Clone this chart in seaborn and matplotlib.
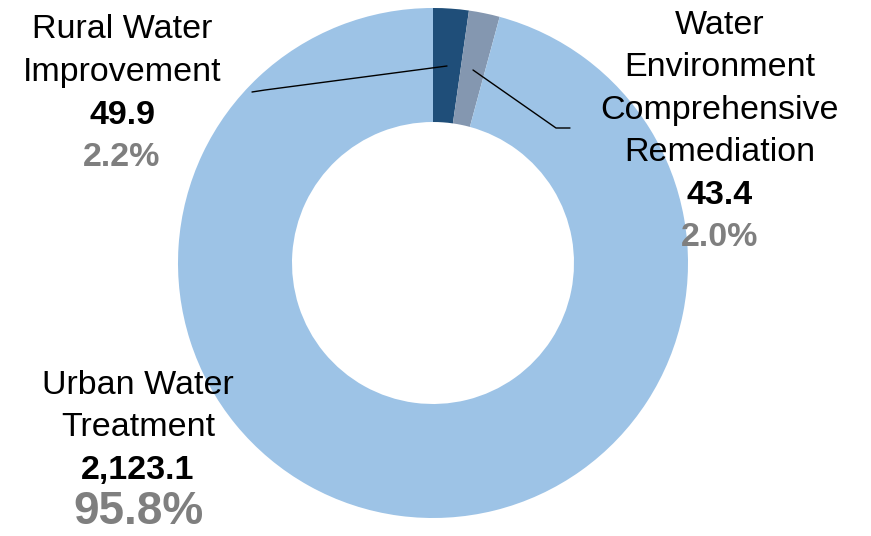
import matplotlib.pyplot as plt
import seaborn as sns

sns.set_theme(style='white')
plt.rcParams['font.family'] = ['Liberation Sans', 'DejaVu Sans']

# 数据
categories = ['Rural Water\nImprovement', 'Water\nEnvironment\nComprehensive\nRemediation', 'Urban Water\nTreatment']
values = [49.9, 43.4, 2123.1]
value_labels = ['49.9', '43.4', '2,123.1']
pct_labels = ['2.2%', '2.0%', '95.8%']
colors = ['#1F4E79', '#8497B0', '#9DC3E6']

fig = plt.figure(figsize=(8.71, 5.36), dpi=100)
ax = fig.add_axes([0, 0, 1, 1])

# 圆环图 (y轴反转，所以counterclock=True即为顺时针显示)
cx, cy, r = 433, 263, 255
ax.pie(values, colors=colors, startangle=-90, counterclock=True,
       center=(cx, cy), radius=r, wedgeprops=dict(width=114, linewidth=0))
ax.set_xlim(0, 871)
ax.set_ylim(536, 0)
ax.set_aspect('equal')
ax.axis('off')

# 引导线
ax.plot([447, 265, 252], [66, 90, 92], color='black', lw=1)
ax.plot([473, 556, 570], [70, 128, 128], color='black', lw=1)

# 标签
label_pos = [(122, 30), (720, 25), (138, 385)]
grey = '#7F7F7F'
fs = 24.5
for i, (x, y) in enumerate(label_pos):
    for line in categories[i].split('\n'):
        ax.text(x, y, line, ha='center', va='center', fontsize=fs, color='black')
        y += 42.5
    ax.text(x, y, value_labels[i], ha='center', va='center', fontsize=fs,
            fontweight='bold', color='black')
    y += 42.5
    big = i == 2
    ax.text(x, y + (-1 if big else 0), pct_labels[i], ha='center', va='center',
            fontsize=33 if big else fs, fontweight='bold', color=grey)

plt.savefig('out.png', dpi=100)
